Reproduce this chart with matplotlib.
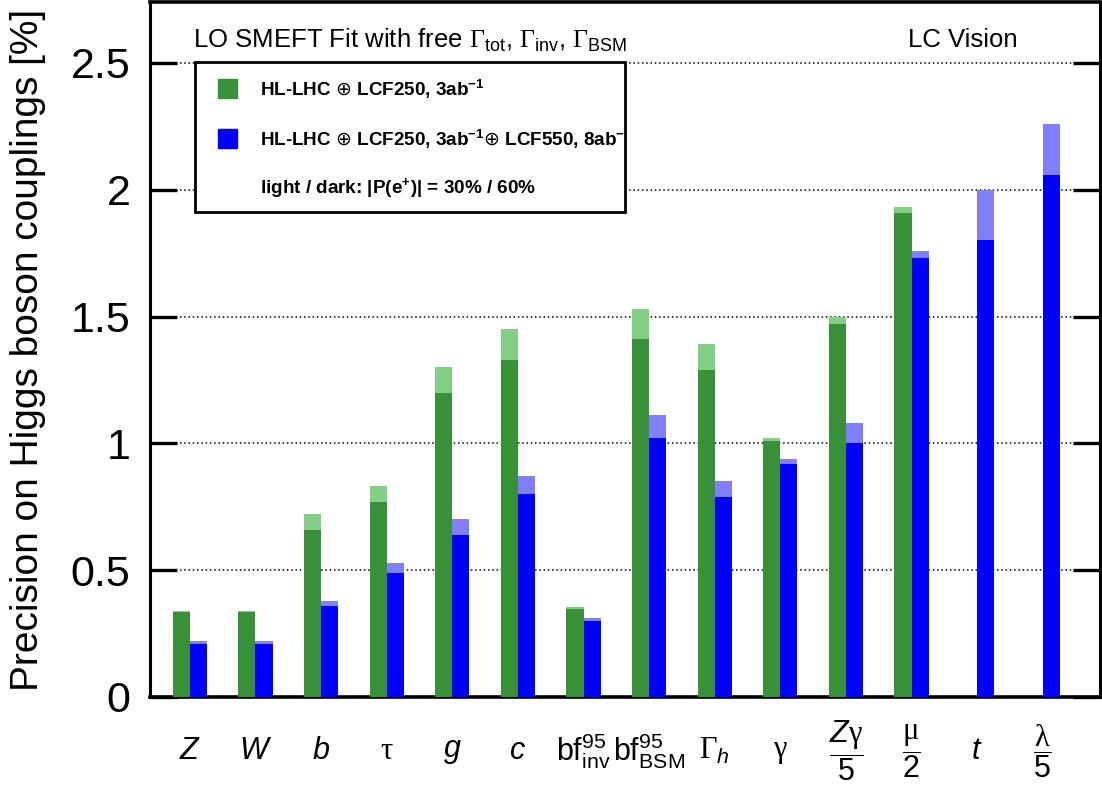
import numpy as np
import matplotlib
matplotlib.use("Agg")
import matplotlib.pyplot as plt
from matplotlib.patches import Rectangle

plt.rcParams['font.family'] = ['Liberation Sans', 'DejaVu Sans']
plt.rcParams['mathtext.fontset'] = 'custom'
plt.rcParams['mathtext.rm'] = 'Liberation Sans'
plt.rcParams['mathtext.it'] = 'Liberation Sans:italic'
plt.rcParams['mathtext.bf'] = 'Liberation Sans:bold'
plt.rcParams['mathtext.sf'] = 'Liberation Serif'
plt.rcParams['mathtext.tt'] = 'DejaVu Sans'

# couplings / quantities
labels = [r'$Z$', r'$W$', r'$b$', r'$\mathsf{\tau}$', r'$g$', r'$c$',
          r'bf$^{95}_{\rm inv}$', r'bf$^{95}_{\rm BSM}$', r'$\mathsf{\Gamma}_h$',
          r'$\mathsf{\gamma}$', r'$\dfrac{Z\mathsf{\gamma}}{5}$',
          r'$\dfrac{\mathsf{\mu}}{2}$', r'$t$', r'$\dfrac{\mathsf{\lambda}}{5}$']

# HL-LHC + LCF250 (light: 30% positron pol., dark: 60%)
green_light = [0.34, 0.34, 0.72, 0.83, 1.30, 1.45, 0.355, 1.53, 1.39, 1.02, 1.50, 1.93, np.nan, np.nan]
green_dark = [0.335, 0.335, 0.66, 0.77, 1.20, 1.33, 0.347, 1.41, 1.29, 1.01, 1.47, 1.91, np.nan, np.nan]
# HL-LHC + LCF250 + LCF550 (light / dark)
blue_light = [0.22, 0.22, 0.38, 0.53, 0.70, 0.87, 0.31, 1.11, 0.85, 0.94, 1.08, 1.76, 2.00, 2.26]
blue_dark = [0.21, 0.21, 0.36, 0.49, 0.64, 0.80, 0.30, 1.02, 0.79, 0.92, 1.00, 1.73, 1.80, 2.06]

x = np.arange(len(labels))
w = 0.26

fig = plt.figure(figsize=(11.02, 7.87), dpi=100)
ax = fig.add_axes([0.136, 0.1144, 0.862, 0.883])

ax.bar(x - w / 2, green_light, w, color='#83cf83', zorder=3)
ax.bar(x - w / 2, green_dark, w, color='#389038', zorder=4)
ax.bar(x + w / 2, blue_light, w, color='#8080ff', zorder=3)
ax.bar(x + w / 2, blue_dark, w, color='#0000ff', zorder=4)

ax.set_xlim(-0.61, 13.87)
ax.set_ylim(0, 2.74)
ax.set_yticks([0, 0.5, 1, 1.5, 2, 2.5])
ax.set_yticklabels(['0', '0.5', '1', '1.5', '2', '2.5'])
ax.yaxis.grid(True, color='black', linestyle=(0, (1, 1.8)), linewidth=1.1, zorder=1)
ax.tick_params(axis='y', direction='in', length=19.5, width=2.4, labelsize=31,
               right=True, pad=14)
ax.set_xticks(x)
ax.set_xticklabels(labels)
ax.tick_params(axis='x', length=0, labelsize=22, pad=39)
for t in ax.get_xticklabels():
    t.set_verticalalignment('center')
for side in ['top', 'bottom']:
    ax.spines[side].set_linewidth(2.6)
for side in ['left', 'right']:
    ax.spines[side].set_linewidth(2.2)

ax.set_ylabel('Precision on Higgs boson couplings [%]', fontsize=28, labelpad=18)

ax.text(0.045, 0.945, r'LO SMEFT Fit with free $\mathsf{\Gamma}_{\rm tot}$, '
        r'$\mathsf{\Gamma}_{\rm inv}$, $\mathsf{\Gamma}_{\rm BSM}$',
        transform=ax.transAxes, fontsize=18.5, va='center')
ax.text(0.856, 0.945, 'LC Vision', transform=ax.transAxes, fontsize=18.5,
        va='center', ha='center')

# legend box
box = Rectangle((195 / 1102, 1 - 212 / 787), 430 / 1102, 150 / 787,
                transform=fig.transFigure, facecolor='white', edgecolor='black',
                linewidth=2, zorder=10)
fig.add_artist(box)
fig.add_artist(Rectangle((218 / 1102, 1 - 98 / 787), 19 / 1102, 19 / 787,
                         transform=fig.transFigure, color='#389038', zorder=11))
fig.add_artist(Rectangle((218 / 1102, 1 - 148 / 787), 19 / 1102, 19 / 787,
                         transform=fig.transFigure, color='#0000ff', zorder=11))
leg_kw = dict(fontsize=13.6, fontweight='bold', va='center', zorder=12)
oplus = r'$\mathtt{\oplus}$'
fig.text(260 / 1102, 1 - 89 / 787,
         'HL-LHC ' + oplus + r' LCF250, 3ab$^{\mathbf{-1}}$', **leg_kw)
fig.text(260 / 1102, 1 - 139 / 787,
         'HL-LHC ' + oplus + r' LCF250, 3ab$^{\mathbf{-1}}$' + oplus
         + r' LCF550, 8ab$^{\mathbf{-1}}$',
         clip_on=True, **leg_kw).set_clip_path(box)
fig.text(260 / 1102, 1 - 188 / 787,
         r'light / dark: |P(e$^{\mathbf{+}}$)| = 30% / 60%', **leg_kw)

fig.savefig('out.png', dpi=100)
